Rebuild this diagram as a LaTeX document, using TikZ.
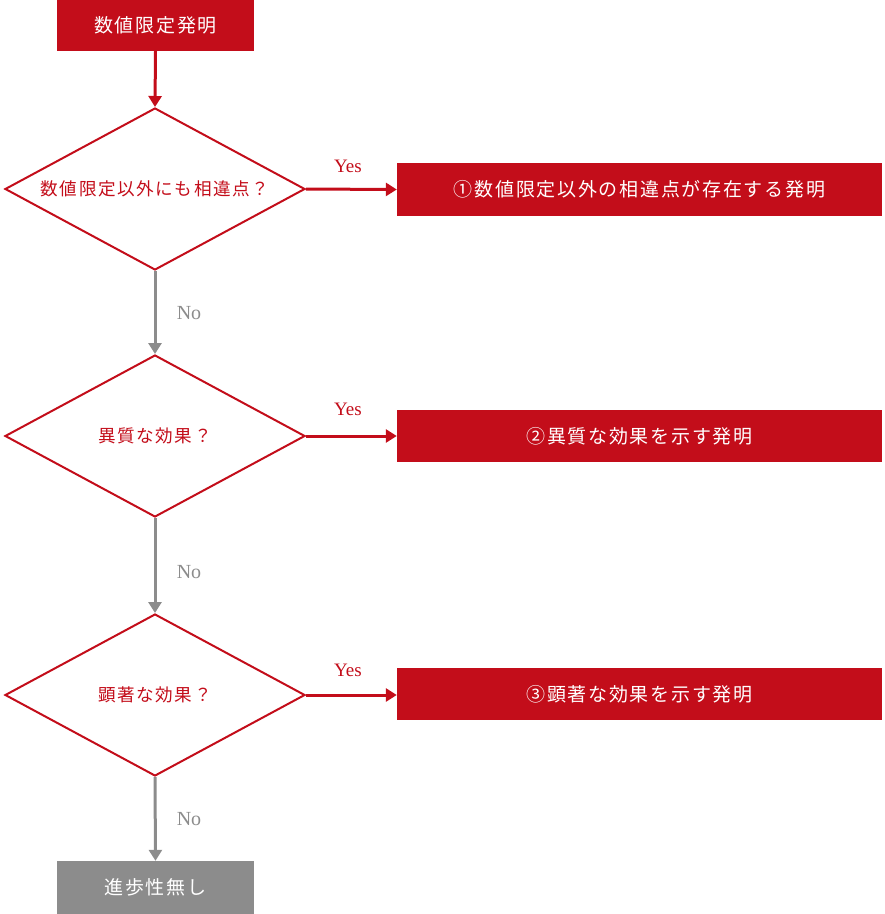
\documentclass[tikz,border=0pt]{standalone}
\usepackage{fontspec}
\setmainfont{Liberation Serif}
\newfontfamily\jp[LetterSpace=9]{Noto Sans CJK JP}
\usetikzlibrary{arrows.meta,shapes.geometric}
\definecolor{myred}{HTML}{C30D1A}
\definecolor{mygray}{HTML}{8C8C8C}
\tikzset{
  jpfont/.style={font=\jp\fontsize{19}{22}\selectfont},
  redbox/.style={fill=myred,text=white,jpfont,inner sep=0pt},
  graybox/.style={fill=mygray,text=white,jpfont,inner sep=0pt},
  decision/.style={diamond,draw=myred,line width=2pt,inner sep=0pt,minimum width=300pt,minimum height=162pt,aspect=1.85},
  dtext/.style={text=myred,font=\jp\fontsize{17.6}{21}\selectfont},
  yesarrow/.style={draw=myred,line width=3pt,-{Triangle[length=11pt,width=13pt]}},
  noarrow/.style={draw=mygray,line width=3pt,-{Triangle[length=11pt,width=13pt]}},
  yeslbl/.style={text=myred,font=\fontsize{19}{22}\selectfont},
  nolbl/.style={text=mygray,font=\fontsize{20}{22}\selectfont},
}
\begin{document}
\begin{tikzpicture}[x=1pt,y=-1pt]
\useasboundingbox (0,0) rectangle (885,914);
\node[redbox,minimum width=197pt,minimum height=51pt] (start) at (155.5,25.5) {数値限定発明};
\node[decision] (d1) at (155,189) {};
\node[dtext] (t1) at (155,189) {数値限定以外にも相違点？};
\node[decision] (d2) at (155,436) {};
\node[dtext] (t2) at (155,436) {異質な効果？};
\node[decision] (d3) at (155,695) {};
\node[dtext] (t3) at (155,695) {顕著な効果？};
\node[redbox,minimum width=485pt,minimum height=53pt] (r1) at (639.5,189.5) {①数値限定以外の相違点が存在する発明};
\node[redbox,minimum width=485pt,minimum height=52pt] (r2) at (639.5,436) {②異質な効果を示す発明};
\node[redbox,minimum width=485pt,minimum height=52pt] (r3) at (639.5,694) {③顕著な効果を示す発明};
\node[graybox,minimum width=197pt,minimum height=53pt] (end) at (155.5,887.5) {進歩性無し};
\draw[yesarrow] (start.south) -- (d1.north);
\draw[yesarrow] (d1.east) -- (r1.west);
\draw[yesarrow] (d2.east) -- (r2.west);
\draw[yesarrow] (d3.east) -- (r3.west |- d3.east);
\draw[noarrow] (d1.south) -- (d2.north);
\draw[noarrow] (d2.south) -- (d3.north);
\draw[noarrow] (d3.south) -- (end.north);
\node[yeslbl] (y1) at (348,166) {Yes};
\node[yeslbl] (y2) at (348,409) {Yes};
\node[yeslbl] (y3) at (348,670) {Yes};
\node[nolbl] (n1) at (189,313) {No};
\node[nolbl] (n2) at (189,572) {No};
\node[nolbl] (n3) at (189,819) {No};
\end{tikzpicture}
\end{document}
